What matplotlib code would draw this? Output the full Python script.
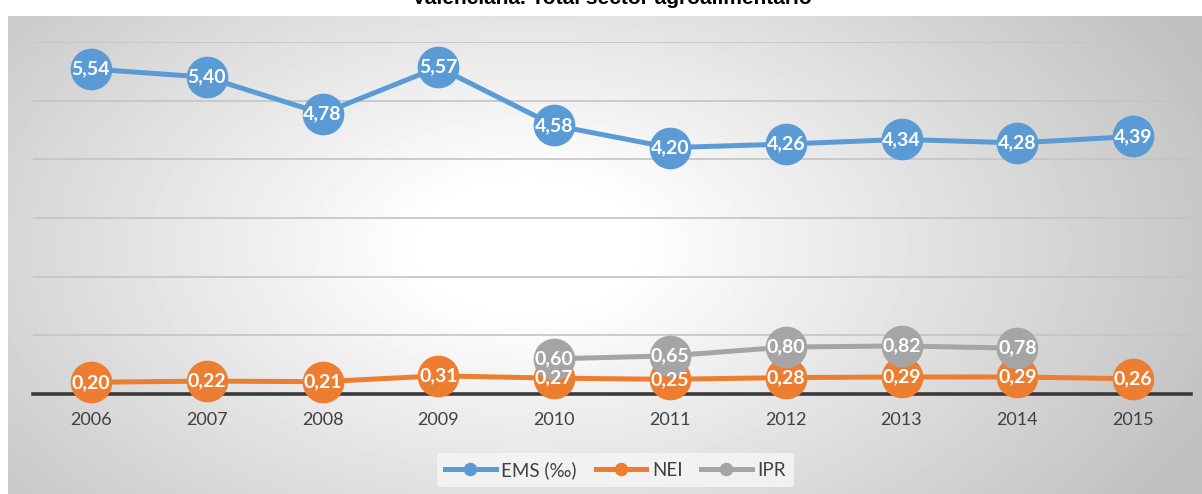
import numpy as np
import matplotlib.pyplot as plt

years = ['2006', '2007', '2008', '2009', '2010',
         '2011', '2012', '2013', '2014', '2015']
ems = [5.54, 5.40, 4.78, 5.57, 4.58, 4.20, 4.26, 4.34, 4.28, 4.39]
nei = [0.20, 0.22, 0.21, 0.31, 0.27, 0.25, 0.28, 0.29, 0.29, 0.26]
ipr = [np.nan, np.nan, np.nan, np.nan, 0.60, 0.65, 0.80, 0.82, 0.78, np.nan]

series_names = ['EMS (‰)', 'NEI', 'IPR']
series_colors = ['#5B9BD5', '#ED7D31', '#A5A5A5']
title = 'Valenciana. Total sector agroalimentario'

W, H = 1202, 494
fig = plt.figure(figsize=(W / 100, H / 100), dpi=100)

# background panel with radial gradient
bg_ax = fig.add_axes([8 / W, 0, 1 - 8 / W, 1 - 16 / H])
bg_ax.set_axis_off()
yy, xx = np.mgrid[0:478, 0:1194]
cx, cy = 520, 230
d = np.sqrt(((xx - cx) / 700) ** 2 + ((yy - cy) / 420) ** 2)
val = 1.0 - 0.27 * np.clip(d - 0.15, 0, None)
val = np.clip(val, 0.75, 1.0)
bg_ax.imshow(val, cmap='gray', vmin=0, vmax=1, aspect='auto',
             interpolation='bilinear')

# plot area
left, right = 33, 1191
top, bottom = 42, 394
ax = fig.add_axes([left / W, 1 - bottom / H, (right - left) / W,
                   (bottom - top) / H])
ax.patch.set_alpha(0)

x = np.arange(len(years))
ax.set_xlim(-0.5, len(years) - 0.5)
ax.set_ylim(0, 6)

for yv in range(1, 7):
    ax.axhline(yv, color='#c4c4c4', lw=1.2, zorder=1)
ax.axhline(0, color='#3a3a3a', lw=2.6, zorder=2, clip_on=False)

for vals, name, col in zip([ems, nei, ipr], series_names, series_colors):
    ax.plot(x, vals, color=col, lw=3.6, marker='o', ms=29,
            mec=col, mfc=col, label=name, zorder=3, clip_on=False)
    for xi, v in zip(x, vals):
        if np.isnan(v):
            continue
        ax.text(xi, v, f'{v:.2f}'.replace('.', ','), ha='center',
                va='center', color='white', fontsize=14,
                fontweight='bold', family='Lato', zorder=4)

for s in ax.spines.values():
    s.set_visible(False)
ax.set_yticks([])
ax.set_xticks(x)
ax.set_xticklabels(years, fontsize=13, color='#404040', family='Lato')
ax.tick_params(axis='x', length=0, pad=13)

leg = ax.legend(loc='upper center', bbox_to_anchor=(0.503, -0.14),
                ncol=3, frameon=True, prop={'family': 'Lato', 'size': 13.5},
                markerscale=0.3, handlelength=2.7, columnspacing=1.0,
                handletextpad=0.3, borderpad=0.45)
leg.get_frame().set_facecolor('#f4f4f4')
leg.get_frame().set_edgecolor('none')
leg.get_frame().set_alpha(0.9)
for t in leg.get_texts():
    t.set_color('#404040')

fig.text(612 / W, 1 + 1 / H, title, ha='center', va='center',
         fontsize=15, fontweight='bold', family='Liberation Sans',
         color='black')

fig.savefig('out.png', dpi=100)
